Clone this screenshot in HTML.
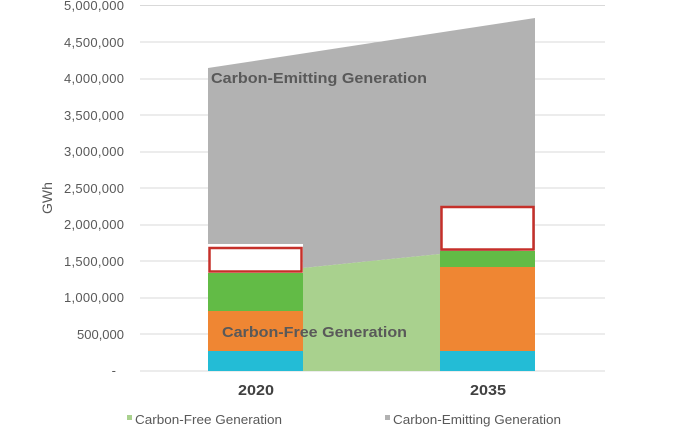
<!DOCTYPE html>
<html><head><meta charset="utf-8"><style>
html,body{margin:0;padding:0;background:#fff;width:679px;height:433px;overflow:hidden}
svg text{font-family:"Liberation Sans",Arial,sans-serif}
</style></head><body>
<svg width="679" height="433" viewBox="0 0 679 433" xmlns="http://www.w3.org/2000/svg">
<g stroke="#d9d9d9" stroke-width="1">
<line x1="140" x2="605" y1="5.5" y2="5.5"/><line x1="140" x2="605" y1="42" y2="42"/>
<line x1="140" x2="605" y1="79" y2="79"/><line x1="140" x2="605" y1="115" y2="115"/>
<line x1="140" x2="605" y1="152" y2="152"/><line x1="140" x2="605" y1="188" y2="188"/>
<line x1="140" x2="605" y1="225" y2="225"/><line x1="140" x2="605" y1="261" y2="261"/>
<line x1="140" x2="605" y1="298" y2="298"/><line x1="140" x2="605" y1="334" y2="334"/>
<line x1="140" x2="605" y1="371" y2="371"/>
</g>
<g font-size="13" fill="#595959" text-anchor="end">
<text x="124" y="10" textLength="60">5,000,000</text><text x="124" y="47" textLength="60">4,500,000</text>
<text x="124" y="83" textLength="60">4,000,000</text><text x="124" y="120" textLength="60">3,500,000</text>
<text x="124" y="156" textLength="60">3,000,000</text><text x="124" y="193" textLength="60">2,500,000</text>
<text x="124" y="229" textLength="60">2,000,000</text><text x="124" y="266" textLength="60">1,500,000</text>
<text x="124" y="302" textLength="60">1,000,000</text><text x="124" y="339" textLength="47">500,000</text>
<text x="116" y="375">-</text>
</g>
<text x="52" y="198" font-size="14" fill="#595959" text-anchor="middle" transform="rotate(-90 52 198)">GWh</text>
<polygon points="208,68 535,18 535,250 440,254 303,268 303,244 257,244 208,244" fill="#b2b2b2"/>
<polygon points="303,268 440,254 440,371 303,371" fill="#a9d18e"/>
<rect x="208" y="273" width="95" height="38" fill="#62bb46"/>
<rect x="208" y="311" width="95" height="40" fill="#ef8633"/>
<rect x="208" y="351" width="95" height="20" fill="#23bcd6"/>
<rect x="209.5" y="248" width="92" height="23.5" fill="#fff" stroke="#c5302a" stroke-width="2.5"/>
<rect x="440" y="251" width="95" height="16" fill="#62bb46"/>
<rect x="440" y="267" width="95" height="84" fill="#ef8633"/>
<rect x="440" y="351" width="95" height="20" fill="#23bcd6"/>
<rect x="441.5" y="207" width="92" height="42.5" fill="#fff" stroke="#c5302a" stroke-width="2.5"/>
<text x="211" y="83" font-size="15" font-weight="bold" fill="#595959" textLength="216" lengthAdjust="spacingAndGlyphs">Carbon-Emitting Generation</text>
<text x="222" y="337" font-size="15" font-weight="bold" fill="#595959" textLength="185" lengthAdjust="spacingAndGlyphs">Carbon-Free Generation</text>
<text x="238" y="395" font-size="15" font-weight="bold" fill="#404040" textLength="36" lengthAdjust="spacingAndGlyphs">2020</text>
<text x="470" y="395" font-size="15" font-weight="bold" fill="#404040" textLength="36" lengthAdjust="spacingAndGlyphs">2035</text>
<rect x="127" y="415" width="5" height="5" fill="#a9d18e"/>
<text x="135" y="424" font-size="13" fill="#595959" textLength="147" lengthAdjust="spacingAndGlyphs">Carbon-Free Generation</text>
<rect x="385" y="415" width="5" height="5" fill="#b2b2b2"/>
<text x="393" y="424" font-size="13" fill="#595959" textLength="168" lengthAdjust="spacingAndGlyphs">Carbon-Emitting Generation</text>
</svg>
</body></html>
